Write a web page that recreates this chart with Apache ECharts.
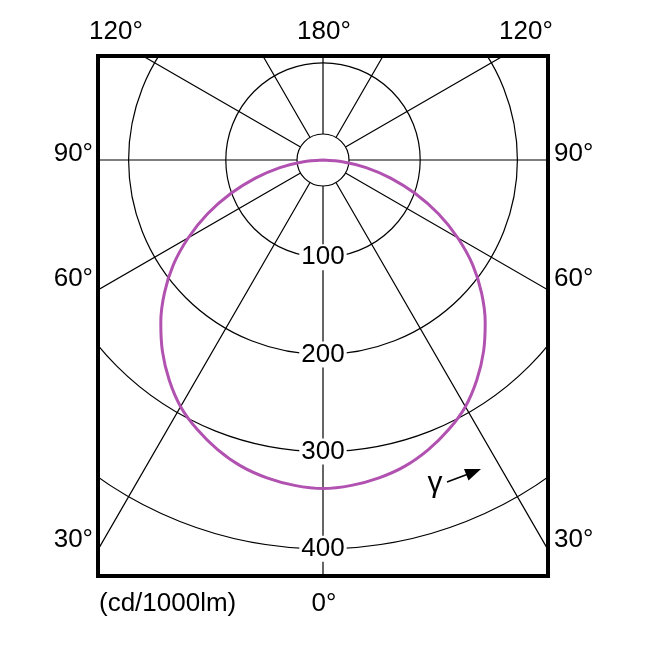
<!DOCTYPE html>
<html><head><meta charset="utf-8">
<script src="https://cdn.jsdelivr.net/npm/echarts@6/dist/echarts.min.js"></script>
<style>html,body{margin:0;padding:0;background:#fff}#c{width:657px;height:661px}</style>
</head><body><div id="c"></div>
<script>
// Luminous intensity (cd/1000lm) vs gamma angle (deg), symmetric curve
const gammaDeg  = [0,5,10,15,20,25,30,35,40,45,50,55,60,65,70,75,80,85,90];
const intensity = [338,336,332,326,317,306,293,276,257,236,213,188,160,131,101,72,45,20,0];
const ringValues = [100,200,300,400];
const topLabels = ['120°','180°','120°'];
const sideLabels = ['90°','60°','30°'];
const bottomLabel = '0°';
const unitLabel = '(cd/1000lm)';
const gammaLabel = 'γ';

const FONT = 'Liberation Sans, Arial, sans-serif';
const CX = 323, CY = 160;

// Build curve: right half (angles 270..360) then left half (0..90)
const curve = [];
for (let i = gammaDeg.length - 1; i >= 0; i--) curve.push([intensity[i], 360 - gammaDeg[i]]);
for (let i = 1; i < gammaDeg.length; i++) curve.push([intensity[i], gammaDeg[i]]);

function txt(text, x, y, align, size) {
  return { type: 'text', z: 20, style: { text, x, y, fill: '#000', font: (size || 26) + 'px ' + FONT,
    textAlign: align, align: align, textVerticalAlign: 'middle', verticalAlign: 'middle' } };
}

const topX = [116, 324, 526];
const sideY = [154, 279, 540];
const graphics = [
  { type: 'circle', z: 1, shape: { cx: CX, cy: CY, r: 26 }, style: { fill: '#fff', stroke: '#000', lineWidth: 1.2 } },
  // masks outside the frame
  { type: 'rect', z: 10, shape: { x: 0, y: 0, width: 657, height: 56 }, style: { fill: '#fff' } },
  { type: 'rect', z: 10, shape: { x: 0, y: 576, width: 657, height: 85 }, style: { fill: '#fff' } },
  { type: 'rect', z: 10, shape: { x: 0, y: 0, width: 98, height: 661 }, style: { fill: '#fff' } },
  { type: 'rect', z: 10, shape: { x: 548, y: 0, width: 109, height: 661 }, style: { fill: '#fff' } },
  // frame
  { type: 'rect', z: 11, shape: { x: 98, y: 56, width: 450, height: 520 }, style: { fill: 'none', stroke: '#000', lineWidth: 4 } },
  // gamma arrow
  { type: 'polyline', z: 12, shape: { points: [[447, 482], [467, 474.5]] }, style: { stroke: '#000', lineWidth: 1.5 } },
  { type: 'polygon', z: 12, shape: { points: [[481, 469], [464, 469], [468.5, 480.5]] }, style: { fill: '#000' } },
  txt(gammaLabel, 435, 484, 'center', 30),
  txt(unitLabel, 99, 604, 'left'),
  txt(bottomLabel, 324, 604, 'center')
];
topLabels.forEach((t, i) => graphics.push(txt(t, topX[i], 32, 'center')));
sideLabels.forEach((t, i) => {
  graphics.push(txt(t, 93, sideY[i], 'right'));
  graphics.push(txt(t, 554, sideY[i], 'left'));
});

const chart = echarts.init(document.getElementById('c'), null, { renderer: 'canvas' });
chart.setOption({
  animation: false,
  backgroundColor: '#fff',
  polar: { center: [CX, CY], radius: 486 },
  angleAxis: {
    type: 'value', min: 0, max: 360, interval: 30, startAngle: 270, clockwise: true,
    axisLine: { show: false }, axisTick: { show: false }, axisLabel: { show: false },
    splitLine: { show: true, lineStyle: { color: '#000', width: 1.2 } }
  },
  radiusAxis: {
    type: 'value', min: 0, max: 500, interval: 100,
    axisLine: { show: false }, axisTick: { show: false }, axisLabel: { show: false },
    splitLine: { show: true, lineStyle: { color: '#000', width: 1.2 } }
  },
  series: [
    {
      type: 'line', coordinateSystem: 'polar', data: curve, z: 3,
      showSymbol: false, symbol: 'none', smooth: 0.25,
      lineStyle: { color: '#b152b1', width: 3, join: 'round' }
    },
    {
      type: 'scatter', coordinateSystem: 'polar', z: 4,
      data: ringValues.map(v => [v, 0]), symbolSize: 1,
      itemStyle: { color: 'rgba(0,0,0,0)', opacity: 1 },
      label: { show: true, position: 'inside', formatter: p => String(p.value[0]),
        color: '#000', fontSize: 26, fontFamily: FONT, backgroundColor: '#fff', padding: [0, 2] }
    }
  ],
  graphic: { elements: graphics }
});
</script></body></html>
